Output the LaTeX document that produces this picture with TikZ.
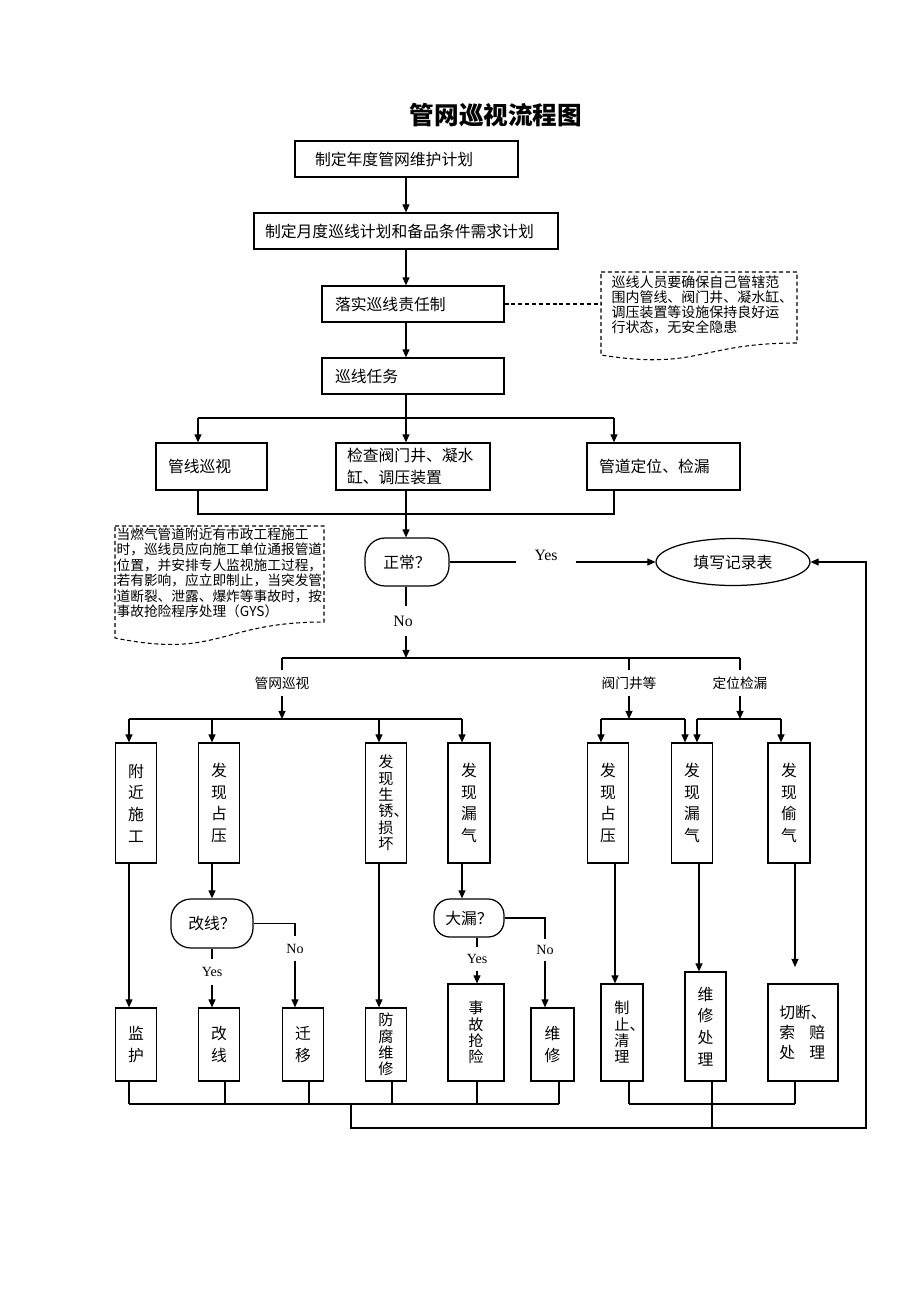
\documentclass[tikz,border=0pt]{standalone}
\usepackage{fontspec}
\setmainfont{Liberation Serif}
\newfontfamily\cjk{Noto Sans CJK SC}
\usetikzlibrary{shapes.geometric, arrows.meta, calc}

\begin{document}
\begin{tikzpicture}[
    x=0.02cm, y=-0.02cm,
    >={Triangle[length=4.6pt,width=4pt]},
    line width=0.7pt,
    base/.style={draw, rectangle, line width=0.7pt},
    box/.style={base, align=left, inner ysep=2pt, font=\cjk\fontsize{9}{12.5}\selectfont},
    vbox/.style={base, align=center, inner sep=1pt, font=\cjk\fontsize{9}{12.3}\selectfont},
    vtight/.style={vbox, font=\cjk\fontsize{8.6}{9.3}\selectfont},
    decision/.style={base, rounded corners=0.4cm, inner sep=1pt, font=\cjk\fontsize{9}{11}\selectfont},
    notebox/.style={draw, line width=0.6pt, dash pattern=on 2.3pt off 1.6pt},
    notetext/.style={anchor=north west, inner sep=0pt, align=left},
    tag/.style={inner sep=0pt, minimum height=0.48cm, font=\cjk\fontsize{7.8}{9}\selectfont},
    yn/.style={inner sep=0pt, font=\fontsize{9}{10}\selectfont},
    ynsmall/.style={inner sep=0pt, font=\fontsize{8}{9}\selectfont}
    ]

    \useasboundingbox (0,0) rectangle (920,1302);

    % --- Titulo ---
    \node (title) at (496,115) {\cjk\bfseries\fontsize{14}{16}\selectfont 管网巡视流程图};

    % --- Columna central ---
    \node (annual) [box, inner xsep=0.4cm, text width=3.66cm, minimum height=0.72cm] at (406.5,159) {制定年度管网维护计划};
    \node (monthly) [box, inner xsep=0.22cm, text width=5.64cm, minimum height=0.72cm] at (406,231) {制定月度巡线计划和备品条件需求计划};
    \node (duty) [box, inner xsep=0.26cm, text width=3.12cm, minimum height=0.72cm] at (413,304) {落实巡线责任制};
    \node (task) [box, inner xsep=0.26cm, text width=3.12cm, minimum height=0.72cm] at (413,376) {巡线任务};

    \node (lineinsp) [box, inner xsep=0.24cm, text width=1.74cm, minimum height=0.94cm] at (211.5,466.5) {管线巡视};
    \node (valve) [box, inner xsep=0.22cm, text width=2.64cm, minimum height=0.94cm] at (413,466.5) {检查阀门井、凝水\\缸、调压装置};
    \node (locate) [box, inner xsep=0.24cm, text width=2.58cm, minimum height=0.94cm] at (663.5,466.5) {管道定位、检漏};

    \node (normal) [decision, minimum width=1.68cm, minimum height=0.96cm] at (407,562) {正常？};
    \node (record) [draw, ellipse, inner sep=0pt, minimum width=3.08cm, minimum height=0.94cm, font=\cjk\fontsize{9}{11}\selectfont] at (733,562) {填写记录表};
    \node (yes1) [yn, minimum width=1.16cm] at (546,555) {Yes};
    \node (no1) [yn, minimum height=0.56cm] at (403,621) {No};

    % --- Notas ---
    \draw[notebox] (601,272) -- (797,272) -- (797,343) .. controls (699,343) and (699,370.5) .. (601,355) -- cycle;
    \node (note1) [notetext, font=\cjk\fontsize{7.95}{8.5}\selectfont] at (611,275) {巡线人员要确保自己管辖范\\围内管线、阀门井、凝水缸、\\调压装置等设施保持良好运\\行状态，无安全隐患};
    \coordinate (note1w) at (601,304);

    \draw[notebox] (115,526) -- (324,526) -- (324,622) .. controls (219.5,622) and (219.5,659) .. (115,638) -- cycle;
    \node (note2) [notetext, font=\cjk\fontsize{7.8}{8.85}\selectfont] at (116,527) {当燃气管道附近有市政工程施工\\时，巡线员应向施工单位通报管道\\位置，并安排专人监视施工过程，\\若有影响，应立即制止，当突发管\\道断裂、泄露、爆炸等事故时，按\\事故抢险程序处理（GYS）};

    % --- Clasificacion ---
    \node (tagpipe) [tag] at (282,683) {管网巡视};
    \node (tagvalve) [tag] at (629,683) {阀门井等};
    \node (tagloc) [tag] at (740,683) {定位检漏};

    \node (near) [vbox, minimum width=0.82cm, minimum height=2.4cm] at (136,803) {附\\近\\施\\工};
    \node (occupy) [vbox, minimum width=0.82cm, minimum height=2.4cm] at (219,803) {发\\现\\占\\压};
    \node (rust) [vtight, minimum width=0.82cm, minimum height=2.4cm] at (386,803) {发\\现\\生\\锈\rlap{、}\\损\\坏};
    \node (leak) [vbox, minimum width=0.84cm, minimum height=2.4cm] at (469,803) {发\\现\\漏\\气};
    \node (occupyR) [vbox, minimum width=0.82cm, minimum height=2.4cm] at (608,803) {发\\现\\占\\压};
    \node (leakR) [vbox, minimum width=0.82cm, minimum height=2.4cm] at (692,803) {发\\现\\漏\\气};
    \node (theft) [vbox, minimum width=0.84cm, minimum height=2.4cm] at (789,803) {发\\现\\偷\\气};

    \node (reroute) [decision, minimum width=1.64cm, minimum height=0.98cm] at (212,923.5) {改线？};
    \node (bigleak) [decision, rounded corners=0.32cm, minimum width=1.4cm, minimum height=0.76cm] at (469,918) {大漏？};
    \node (yes2) [ynsmall, minimum height=0.48cm] at (212,972) {Yes};
    \node (no2) [ynsmall, minimum height=0.46cm] at (295,948.5) {No};
    \node (yes3) [ynsmall, minimum height=0.44cm] at (477,959) {Yes};
    \node (no3) [ynsmall, minimum height=0.4cm] at (545,950) {No};

    % --- Acciones ---
    \node (watch) [vbox, minimum width=0.82cm, minimum height=1.46cm] at (136,1044.5) {监\\护};
    \node (rerouted) [vbox, minimum width=0.82cm, minimum height=1.46cm] at (219,1044.5) {改\\线};
    \node (move) [vbox, minimum width=0.82cm, minimum height=1.46cm] at (303,1044.5) {迁\\移};
    \node (anticorr) [vtight, minimum width=0.82cm, minimum height=1.46cm] at (386,1044.5) {防\\腐\\维\\修};
    \node (rescue) [vtight, minimum width=1.12cm, minimum height=1.94cm] at (476,1032.5) {事\\故\\抢\\险};
    \node (repair) [vbox, minimum width=0.86cm, minimum height=1.46cm] at (552.5,1044.5) {维\\修};
    \node (stop) [vtight, minimum width=0.84cm, minimum height=1.94cm] at (622,1032.5) {制\\止\rlap{、}\\清\\理};
    \node (repairR) [vbox, minimum width=0.82cm, minimum height=2.18cm] at (705.5,1026.5) {维\\修\\处\\理};
    \node (cutoff) [vbox, align=left, minimum width=1.4cm, minimum height=1.94cm, font=\cjk\fontsize{9}{11.3}\selectfont] at (803,1032.5) {切断、\\索\hspace{0.9em}赔\\处\hspace{0.9em}理};

    % --- Conexiones centrales ---
    \coordinate (spine) at (406,0);
    \draw[->] (annual.south -| spine) -- (monthly.north -| spine);
    \draw[->] (monthly.south -| spine) -- (duty.north -| spine);
    \draw[->] (duty.south -| spine) -- (task.north -| spine);
    \draw[notebox] (duty.east) -- (duty.east -| note1w);

    \coordinate (splitL) at (198,418);
    \coordinate (splitR) at (614,418);
    \draw (task.south -| spine) -- (spine |- splitL);
    \draw (splitL) -- (splitR);
    \draw[->] (splitL) -- (splitL |- lineinsp.north);
    \draw[->] (spine |- splitL) -- (spine |- valve.north);
    \draw[->] (splitR) -- (splitR |- locate.north);

    \coordinate (joinL) at (198,514);
    \coordinate (joinR) at (614,514);
    \draw (splitL |- lineinsp.south) -- (joinL) -- (joinR) -- (splitR |- locate.south);
    \draw[->] (spine |- valve.south) -- (spine |- normal.north);

    % --- Yes / No ---
    \draw (normal.east) -- (normal.east -| yes1.west);
    \draw[->] (record.west -| yes1.east) -- (record.west);
    \draw (spine |- normal.south) -- (spine |- no1.north);

    \coordinate (bar2L) at (282,658);
    \coordinate (bar2R) at (740,658);
    \draw[->] (spine |- no1.south) -- (spine |- bar2L);
    \draw (bar2L) -- (bar2R);
    \foreach \t in {tagpipe, tagvalve, tagloc}
        \draw (\t.north |- bar2L) -- (\t.north);

    \coordinate (bar3a) at (129,719);
    \coordinate (bar3b) at (462,719);
    \coordinate (bar3c) at (601,719);
    \coordinate (bar3d) at (685,719);
    \coordinate (bar3e) at (697,719);
    \coordinate (bar3f) at (781,719);
    \foreach \t in {tagpipe, tagvalve, tagloc}
        \draw[->] (\t.south) -- (\t.south |- bar3a);
    \draw (bar3a) -- (bar3b);
    \draw (bar3c) -- (bar3d);
    \draw (bar3e) -- (bar3f);
    \foreach \x/\b in {129/near, 212/occupy, 379/rust, 462/leak, 601/occupyR, 685/leakR, 697/leakR, 781/theft}
        \draw[->] (bar3a -| \x,0) -- (\b.north -| \x,0);

    % --- Hacia las acciones ---
    \draw[->] (near.south -| 129,0) -- (watch.north -| 129,0);
    \draw[->] (reroute.north |- occupy.south) -- (reroute.north);
    \draw[->] (rust.south -| 379,0) -- (anticorr.north -| 379,0);
    \draw[->] (leak.south -| 462,0) -- (bigleak.north -| 462,0);
    \draw[->] (occupyR.south -| 615,0) -- (stop.north -| 615,0);
    \draw[->] (leakR.south -| 699,0) -- (repairR.north -| 699,0);
    \coordinate (theftend) at (795,967);
    \draw[->] (theft.south -| theftend) -- (theftend);

    \draw (reroute.south) -- (reroute.south |- yes2.north);
    \draw[->] (reroute.south |- yes2.south) -- (reroute.south |- rerouted.north);
    \draw (reroute.east) -| (no2.north);
    \draw[->] (no2.south) -- (no2.south |- move.north);

    \draw (bigleak.south -| yes3) -- (yes3.north);
    \draw[->] (yes3.south) -- (yes3.south |- rescue.north);
    \draw (bigleak.east) -| (no3.north);
    \draw[->] (no3.south) -- (no3.south |- repair.north);

    % --- Retorno al registro ---
    \coordinate (bar4a) at (129,1104);
    \coordinate (bar4b) at (559,1104);
    \coordinate (bar4c) at (629,1104);
    \coordinate (bar4d) at (795,1104);
    \coordinate (bar5a) at (351,1128);
    \coordinate (bar5b) at (866,1128);
    \foreach \b/\x in {watch/129, rerouted/225, move/309, anticorr/392, rescue/477, repair/559, stop/629, cutoff/795}
        \draw (\b.south -| \x,0) -- (bar4a -| \x,0);
    \draw (bar4a) -- (bar4b);
    \draw (bar4c) -- (bar4d);
    \draw (repairR.south -| 712,0) -- (bar5a -| 712,0);
    \draw[->] (bar4a -| bar5a) -- (bar5a) -- (bar5b) |- (record.east);

\end{tikzpicture}
\end{document}
